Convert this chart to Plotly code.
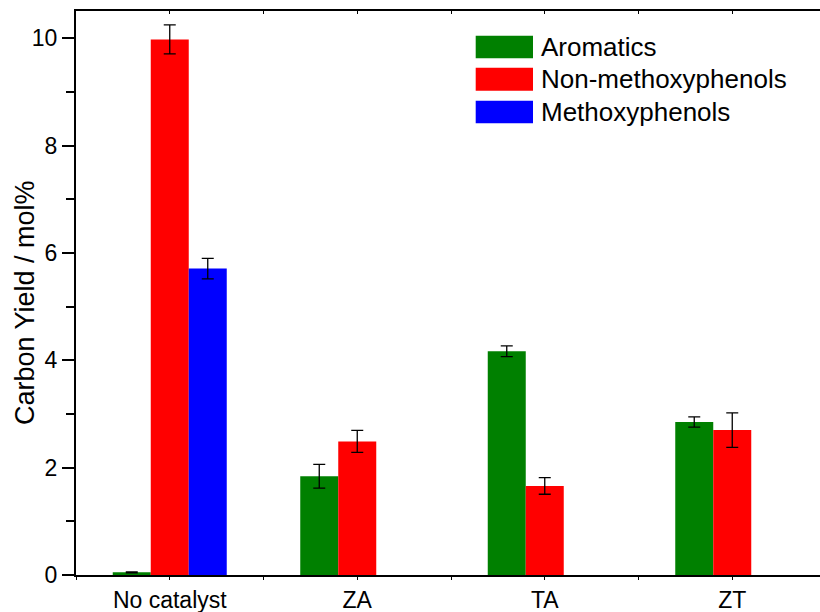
import plotly.graph_objects as go

# Carbon yield (mol%) of product classes for each catalyst
catalysts = ["No catalyst", "ZA", "TA", "ZT"]
aromatics = [0.05, 1.84, 4.17, 2.85]
aromatics_err = [0.01, 0.22, 0.10, 0.095]
non_methoxy = [9.98, 2.49, 1.66, 2.70]
non_methoxy_err = [0.27, 0.205, 0.155, 0.32]
methoxy = [5.71, None, None, None]
methoxy_err = [0.19, None, None, None]

series_names = ["Aromatics", "Non-methoxyphenols", "Methoxyphenols"]
series_colors = ["#008000", "#FF0000", "#0000FF"]

FONT = "Arial, Liberation Sans, sans-serif"
W, H = 820, 612
L, R, T, B = 76, 0, 11, 37
X_RANGE = [-0.5, 3.468]

xpos = list(range(len(catalysts)))

fig = go.Figure()
for name, color, vals, errs in zip(
    series_names, series_colors,
    [aromatics, non_methoxy, methoxy],
    [aromatics_err, non_methoxy_err, methoxy_err],
):
    fig.add_trace(go.Bar(
        x=xpos, y=vals, name=name,
        marker=dict(color=color, line=dict(width=0)),
        error_y=dict(type="data", array=errs, visible=True,
                     color="black", thickness=1.3, width=6),
        showlegend=False,
    ))

# empty trace so the top (tick-only) axis gets drawn
fig.add_trace(go.Scatter(x=[], y=[], xaxis="x2", yaxis="y",
                         showlegend=False, hoverinfo="skip"))

# Legend drawn as large colour swatches with labels, top right of the plot
pw, ph = W - L - R, H - T - B
def px_x(v):
    return (v - L) / pw
def px_y(v):
    return (H - B - v) / ph

rows = [(35.7, 58.3), (67.7, 90.7), (100.7, 123.3)]
for (y0, y1), name, color in zip(rows, series_names, series_colors):
    fig.add_shape(type="rect", xref="paper", yref="paper",
                  x0=px_x(475.7), x1=px_x(533), y0=px_y(y1), y1=px_y(y0),
                  fillcolor=color, line=dict(width=0))
    fig.add_annotation(xref="paper", yref="paper", x=px_x(539),
                       y=px_y((y0 + y1) / 2), text=name, showarrow=False,
                       xanchor="left", yanchor="middle",
                       font=dict(family=FONT, size=26, color="black"))

# y-axis title
fig.add_annotation(xref="paper", yref="paper", x=px_x(25), y=px_y(303),
                   text="Carbon Yield / mol%", textangle=-90, showarrow=False,
                   xanchor="center", yanchor="middle",
                   font=dict(family=FONT, size=27, color="black"))

fig.update_layout(
    width=W, height=H,
    margin=dict(l=L, r=R, t=T, b=B, pad=0),
    plot_bgcolor="white", paper_bgcolor="white",
    barmode="group", bargap=0.392, bargroupgap=0,
    font=dict(family=FONT, size=23, color="black"),
    xaxis=dict(
        range=X_RANGE,
        tickmode="array", tickvals=xpos, ticktext=catalysts,
        showline=True, linecolor="black", linewidth=2, mirror=True,
        ticks="outside", ticklen=3, tickwidth=1, tickcolor="black",
        minor=dict(tickmode="linear", tick0=0.5, dtick=1, ticks="outside",
                   ticklen=3, tickwidth=1, tickcolor="black"),
        showgrid=False, zeroline=False,
        tickfont=dict(family=FONT, size=23),
    ),
    xaxis2=dict(
        range=X_RANGE, overlaying="x", side="top", anchor="y",
        tickmode="linear", tick0=0, dtick=0.5,
        ticks="inside", ticklen=3, tickwidth=1, tickcolor="black",
        showticklabels=False, showline=False, showgrid=False, zeroline=False,
    ),
    yaxis=dict(
        range=[0, 10.51],
        tickmode="linear", tick0=0, dtick=2,
        showline=True, linecolor="black", linewidth=2, mirror=False,
        ticks="outside", ticklen=12, tickwidth=2, tickcolor="black",
        minor=dict(tickmode="linear", tick0=1, dtick=2, ticks="outside",
                   ticklen=8, tickwidth=2, tickcolor="black"),
        showgrid=False, zeroline=False,
        tickfont=dict(family=FONT, size=23),
    ),
)

fig.write_html("out.html")
